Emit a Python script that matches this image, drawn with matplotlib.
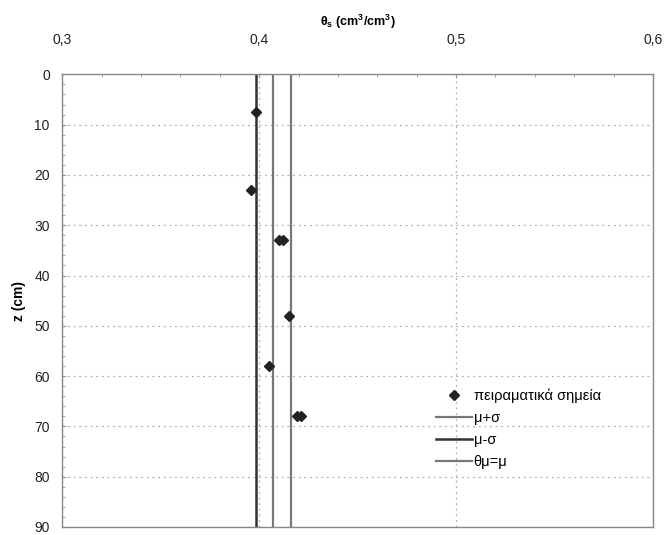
import matplotlib
matplotlib.use('Agg')
import matplotlib.pyplot as plt
from matplotlib.ticker import MultipleLocator, FuncFormatter

plt.rcParams['font.family'] = ['Liberation Sans', 'DejaVu Sans']

# experimental points (theta_s, depth z)
theta_pts = [0.3985, 0.396, 0.410, 0.412, 0.4151, 0.405, 0.419, 0.421]
z_pts = [7.5, 23, 33, 33, 48, 58, 68, 68]

mu = 0.4072
mu_plus_sigma = 0.4162
mu_minus_sigma = 0.3985

z_range = [0, 90]

fig = plt.figure(figsize=(6.67, 5.35), dpi=100)
ax = fig.add_axes([0.0934, 0.015, 0.8856, 0.846])

ax.plot(theta_pts, z_pts, linestyle='none', marker='D', markersize=5,
        color='#222222', label='πειραματικά σημεία', zorder=5)
ax.plot([mu_plus_sigma] * 2, z_range, color='#777777', lw=1.6, label='μ+σ')
ax.plot([mu_minus_sigma] * 2, z_range, color='#333333', lw=1.8, label='μ-σ')
ax.plot([mu] * 2, z_range, color='#777777', lw=1.6, label='θμ=μ')

ax.set_xlim(0.3, 0.6)
ax.set_ylim(90, 0)
ax.xaxis.tick_top()
ax.xaxis.set_label_position('top')
ax.xaxis.set_major_locator(MultipleLocator(0.1))
ax.xaxis.set_minor_locator(MultipleLocator(0.02))
ax.yaxis.set_major_locator(MultipleLocator(10))
ax.yaxis.set_minor_locator(MultipleLocator(2))
ax.xaxis.set_major_formatter(FuncFormatter(lambda v, p: f'{v:.1f}'.replace('.', ',')))
ax.tick_params(which='both', direction='in', colors='#999999', labelcolor='#222222',
               labelsize=10)
ax.tick_params(which='major', length=3)
ax.tick_params(which='minor', length=2)
ax.tick_params(axis='x', pad=20)
ax.tick_params(axis='y', pad=9)

ax.grid(True, which='major', linestyle=(0, (1.5, 3)), color='#b0b0b0', lw=0.9)
for s in ax.spines.values():
    s.set_color('#888888')
    s.set_linewidth(1.0)

ax.set_xlabel('θ$_\\mathregular{s}$ (cm$^\\mathregular{3}$/cm$^\\mathregular{3}$)',
              fontsize=9, fontweight='bold', labelpad=5)
ax.set_ylabel('z (cm)', fontsize=10, fontweight='bold', labelpad=6)

ax.legend(loc='upper left', bbox_to_anchor=(0.61, 0.335), frameon=False,
          fontsize=10.5, handlelength=2.5, handletextpad=0.1, labelspacing=0.55)

fig.savefig('out.png', dpi=100)
